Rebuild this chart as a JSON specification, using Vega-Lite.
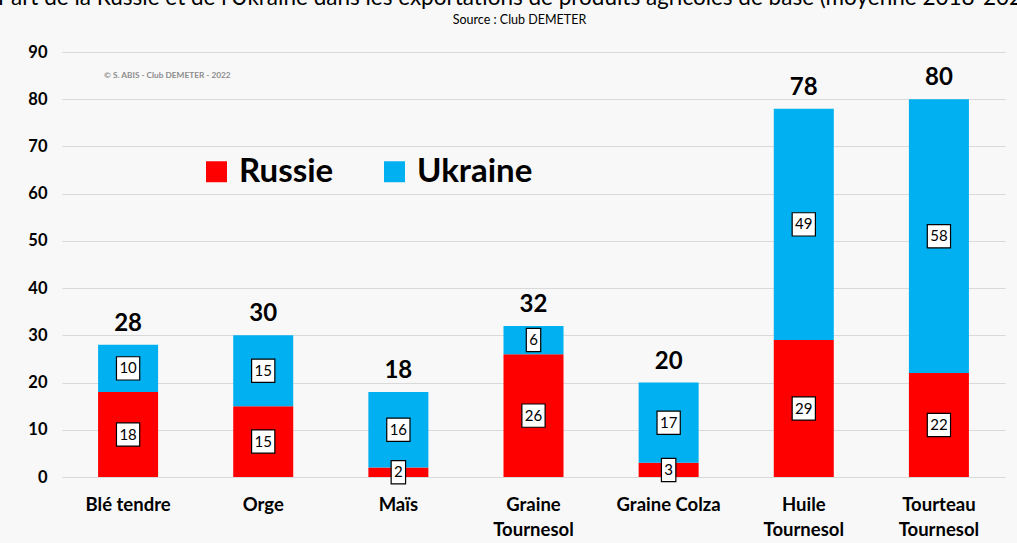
{
  "$schema": "https://vega.github.io/schema/vega-lite/v6.json",
  "autosize": {"type": "none"},
  "width": 943,
  "height": 425,
  "padding": {"left": 62, "top": 52, "right": 12, "bottom": 66},
  "background": "#f8f8f8",
  "config": {
    "font": "Lato",
    "view": {"stroke": null}
  },
  "title": {
    "text": "Part de la Russie et de l'Ukraine dans les exportations de produits agricoles de base (moyenne 2018-2020)",
    "subtitle": "Source : Club DEMETER",
    "anchor": "middle",
    "frame": "group",
    "dx": -14,
    "offset": 18,
    "fontSize": 22.5,
    "fontWeight": "normal",
    "font": "Lato",
    "color": "#000000",
    "subtitleFontSize": 12.5,
    "subtitleFont": "Lato",
    "subtitleFontWeight": "normal",
    "subtitleColor": "#000000",
    "subtitlePadding": 4,
    "limit": 0
  },
  "datasets": {
    "parts": [
      {"produit": "Blé tendre", "pays": "Russie", "value": 18},
      {"produit": "Blé tendre", "pays": "Ukraine", "value": 10},
      {"produit": "Orge", "pays": "Russie", "value": 15},
      {"produit": "Orge", "pays": "Ukraine", "value": 15},
      {"produit": "Maïs", "pays": "Russie", "value": 2},
      {"produit": "Maïs", "pays": "Ukraine", "value": 16},
      {"produit": "Graine Tournesol", "pays": "Russie", "value": 26},
      {"produit": "Graine Tournesol", "pays": "Ukraine", "value": 6},
      {"produit": "Graine Colza", "pays": "Russie", "value": 3},
      {"produit": "Graine Colza", "pays": "Ukraine", "value": 17},
      {"produit": "Huile Tournesol", "pays": "Russie", "value": 29},
      {"produit": "Huile Tournesol", "pays": "Ukraine", "value": 49},
      {"produit": "Tourteau Tournesol", "pays": "Russie", "value": 22},
      {"produit": "Tourteau Tournesol", "pays": "Ukraine", "value": 58}
    ],
    "watermark": [
      {"produit": "Blé tendre", "y": 85, "texte": "© S. ABIS  - Club DEMETER - 2022"}
    ]
  },
  "encoding": {
    "x": {
      "field": "produit",
      "type": "nominal",
      "sort": ["Blé tendre", "Orge", "Maïs", "Graine Tournesol", "Graine Colza", "Huile Tournesol", "Tourteau Tournesol"],
      "scale": {"paddingInner": 0.556, "paddingOuter": 0.267},
      "axis": {
        "title": null,
        "labelAngle": 0,
        "domain": false,
        "ticks": false,
        "labelFont": "Lato",
        "labelFontSize": 18.5,
        "labelFontWeight": "bold",
        "labelColor": "#000000",
        "labelPadding": 18,
        "labelLineHeight": 25,
        "labelExpr": "indexof(datum.label, 'Tournesol') > 0 ? split(datum.label, ' ') : datum.label"
      }
    }
  },
  "layer": [
    {
      "data": {"name": "parts"},
      "mark": {"type": "bar"},
      "encoding": {
        "y": {
          "field": "value",
          "type": "quantitative",
          "stack": "zero",
          "scale": {"domain": [0, 90]},
          "axis": {
            "title": null,
            "values": [0, 10, 20, 30, 40, 50, 60, 70, 80, 90],
            "domain": false,
            "ticks": false,
            "gridColor": "#d9d9d9",
            "gridWidth": 1,
            "labelFont": "Lato",
            "labelFontSize": 16.5,
            "labelFontWeight": "bold",
            "labelColor": "#000000",
            "labelPadding": 15
          }
        },
        "color": {
          "field": "pays",
          "type": "nominal",
          "scale": {"domain": ["Russie", "Ukraine"], "range": ["#ff0000", "#00b0f0"]},
          "legend": {
            "title": null,
            "orient": "none",
            "direction": "horizontal",
            "legendX": 138,
            "legendY": 103,
            "symbolType": "square",
            "symbolSize": 440,
            "symbolStrokeWidth": 0,
            "labelFont": "Lato",
            "labelFontSize": 33,
            "labelFontWeight": "bold",
            "labelColor": "#000000",
            "labelOffset": 6,
            "columnPadding": 44,
            "labelLimit": 300
          }
        },
        "order": {"field": "pays", "sort": "ascending"}
      }
    },
    {
      "data": {"name": "parts"},
      "transform": [
        {"stack": "value", "groupby": ["produit"], "sort": [{"field": "pays", "order": "ascending"}], "as": ["v0", "v1"]},
        {"calculate": "(datum.v0 + datum.v1) / 2", "as": "mid"}
      ],
      "mark": {"type": "point", "filled": true, "fill": "#ffffff", "stroke": "#000000", "strokeWidth": 1.2, "size": 540, "opacity": 1},
      "encoding": {
        "y": {"field": "mid", "type": "quantitative"},
        "shape": {
          "condition": {"test": "datum.value < 10", "value": "M-0.62,-1H0.62V1H-0.62Z"},
          "value": "M-1,-1H1V1H-1Z"
        }
      }
    },
    {
      "data": {"name": "parts"},
      "transform": [
        {"stack": "value", "groupby": ["produit"], "sort": [{"field": "pays", "order": "ascending"}], "as": ["v0", "v1"]},
        {"calculate": "(datum.v0 + datum.v1) / 2", "as": "mid"}
      ],
      "mark": {"type": "text", "font": "Lato", "fontSize": 15, "color": "#000000", "baseline": "middle", "align": "center"},
      "encoding": {
        "y": {"field": "mid", "type": "quantitative"},
        "text": {"field": "value", "type": "quantitative"}
      }
    },
    {
      "data": {"name": "parts"},
      "transform": [
        {"aggregate": [{"op": "sum", "field": "value", "as": "total"}], "groupby": ["produit"]}
      ],
      "mark": {"type": "text", "font": "Lato", "fontSize": 24, "fontWeight": "bold", "color": "#000000", "baseline": "alphabetic", "align": "center", "dy": -14},
      "encoding": {
        "y": {"field": "total", "type": "quantitative"},
        "text": {"field": "total", "type": "quantitative"}
      }
    },
    {
      "data": {"name": "watermark"},
      "mark": {"type": "text", "font": "Lato", "fontSize": 8.3, "fontWeight": "bold", "color": "#8c8c8c", "align": "left", "baseline": "middle", "dx": 6},
      "encoding": {
        "x": {"field": "produit", "type": "nominal", "bandPosition": 0},
        "y": {"field": "y", "type": "quantitative"},
        "text": {"field": "texte"}
      }
    }
  ]
}
